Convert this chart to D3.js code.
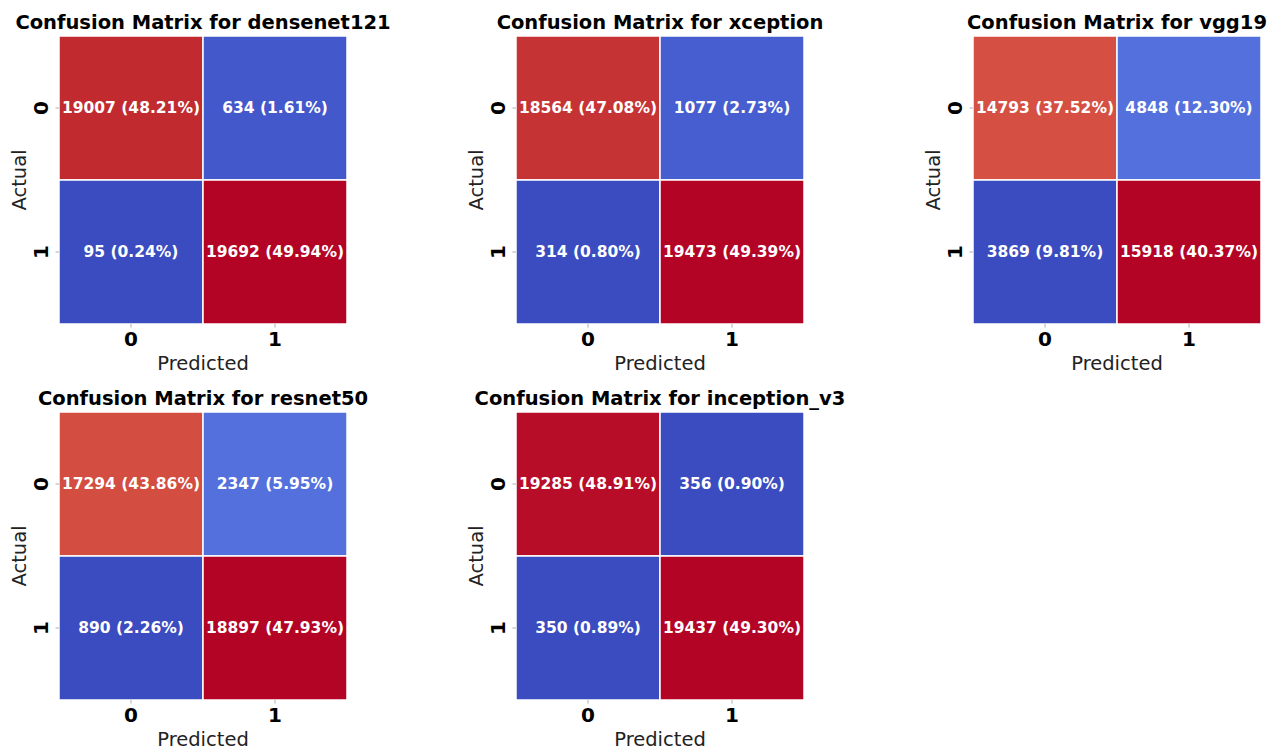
<!DOCTYPE html>
<html>
<head>
<meta charset="utf-8">
<script src="https://cdn.jsdelivr.net/npm/d3@7"></script>
<style>
  html, body { margin: 0; padding: 0; background: #fff; }
  svg { display: block; font-family: "DejaVu Sans", sans-serif; }
</style>
</head>
<body>
<svg id="chart" width="1277" height="749"></svg>
<script>
// Model names, one confusion matrix per model (rows = actual, cols = predicted)
const models = ["densenet121", "xception", "vgg19", "resnet50", "inception_v3"];
const densenet121 = [[19007, 634], [95, 19692]];
const xception    = [[18564, 1077], [314, 19473]];
const vgg19       = [[14793, 4848], [3869, 15918]];
const resnet50    = [[17294, 2347], [890, 18897]];
const inceptionV3 = [[19285, 356], [350, 19437]];
const matrices = [densenet121, xception, vgg19, resnet50, inceptionV3];
const classLabels = ["0", "1"];

// coolwarm colormap stops
const coolwarm = [
  [59,76,192],[68,90,204],[77,104,215],[87,117,225],[98,130,234],[108,142,241],
  [119,154,247],[130,165,251],[141,176,254],[152,185,255],[163,194,255],[174,201,253],
  [184,208,249],[194,213,244],[204,217,238],[213,219,230],[221,221,221],[229,216,209],
  [236,211,197],[241,204,184],[245,196,172],[247,187,159],[247,177,147],[247,166,134],
  [244,154,123],[241,141,111],[236,127,99],[229,112,89],[222,96,77],[213,80,66],
  [203,62,56],[192,40,47],[180,4,38]
].map(c => d3.rgb(c[0], c[1], c[2]).toString());
const cmap = d3.scaleLinear()
  .domain(coolwarm.map((_, i) => i / (coolwarm.length - 1)))
  .range(coolwarm)
  .interpolate(d3.interpolateRgb)
  .clamp(true);

const svg = d3.select("#chart");

// grid placement of the five panels
const panelX = [59, 516, 973];
const panelY = [36, 412];
const size = 288;

matrices.forEach((m, idx) => {
  const col = idx % 3, row = Math.floor(idx / 3);
  const g = svg.append("g")
    .attr("transform", `translate(${panelX[col]},${panelY[row]})`);

  const x = d3.scaleBand().domain(classLabels).range([0, size]);
  const y = d3.scaleBand().domain(classLabels).range([0, size]);

  const flat = [];
  m.forEach((r, i) => r.forEach((v, j) => flat.push({ actual: classLabels[i], pred: classLabels[j], v })));
  const total = d3.sum(flat, d => d.v);
  const [vmin, vmax] = d3.extent(flat, d => d.v);
  const norm = d3.scaleLinear().domain([vmin, vmax]).range([0, 1]);

  g.selectAll("rect.cell").data(flat).join("rect")
    .attr("class", "cell")
    .attr("x", d => x(d.pred))
    .attr("y", d => y(d.actual))
    .attr("width", x.bandwidth())
    .attr("height", y.bandwidth())
    .attr("fill", d => cmap(norm(d.v)))
    .attr("stroke", "#ffffff")
    .attr("stroke-width", 1.5);

  g.selectAll("text.val").data(flat).join("text")
    .attr("class", "val")
    .attr("x", d => x(d.pred) + x.bandwidth() / 2)
    .attr("y", d => y(d.actual) + y.bandwidth() / 2)
    .attr("text-anchor", "middle")
    .attr("dominant-baseline", "central")
    .attr("fill", "#ffffff")
    .attr("font-weight", "bold")
    .attr("font-size", 15.5)
    .text(d => `${d.v} (${(d.v / total * 100).toFixed(2)}%)`);

  // x axis
  const xAxis = g.append("g")
    .attr("transform", `translate(0,${size})`)
    .call(d3.axisBottom(x).tickSize(3.5).tickPadding(4));
  xAxis.select(".domain").remove();
  xAxis.selectAll(".tick line").attr("stroke", "#999").attr("stroke-width", 0.8);
  xAxis.selectAll(".tick text")
    .attr("font-size", 20).attr("font-weight", "bold").attr("fill", "#000")
    .attr("font-family", "DejaVu Sans");

  // y axis (labels rotated)
  const yAxis = g.append("g")
    .call(d3.axisLeft(y).tickSize(3.5).tickPadding(4));
  yAxis.select(".domain").remove();
  yAxis.selectAll(".tick line").attr("stroke", "#999").attr("stroke-width", 0.8);
  yAxis.selectAll(".tick text")
    .attr("font-size", 20).attr("font-weight", "bold").attr("fill", "#000")
    .attr("font-family", "DejaVu Sans")
    .attr("text-anchor", "middle")
    .attr("dominant-baseline", "central")
    .attr("dy", 0)
    .attr("transform", "rotate(-90)")
    .attr("x", 0).attr("y", -18);

  g.append("text")
    .attr("x", size / 2).attr("y", size + 39)
    .attr("text-anchor", "middle").attr("dominant-baseline", "central")
    .attr("font-size", 19.5).attr("fill", "#222")
    .text("Predicted");

  g.append("text")
    .attr("transform", `translate(-40,${size / 2}) rotate(-90)`)
    .attr("text-anchor", "middle").attr("dominant-baseline", "central")
    .attr("font-size", 19.5).attr("fill", "#222")
    .text("Actual");

  g.append("text")
    .attr("x", size / 2).attr("y", -7)
    .attr("text-anchor", "middle")
    .attr("font-size", 19.5).attr("font-weight", "bold").attr("fill", "#000")
    .text(`Confusion Matrix for ${models[idx]}`);
});
</script>
</body>
</html>
